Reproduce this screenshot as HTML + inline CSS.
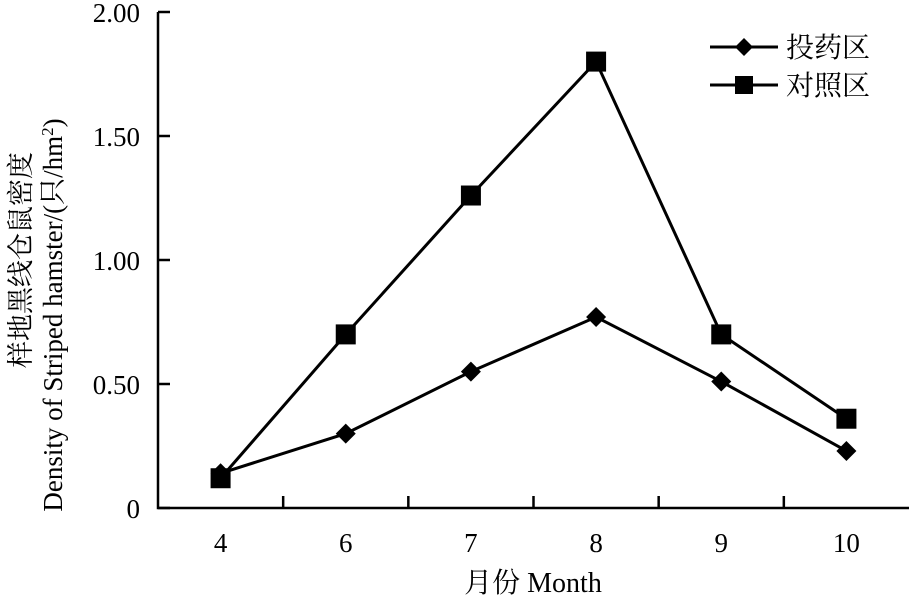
<!DOCTYPE html>
<html><head><meta charset="utf-8"><style>
body{margin:0;background:#fff;}
svg text{font-family:"Liberation Serif","Noto Serif CJK SC",serif;fill:#000;}
</style></head><body>
<svg id="c" width="909" height="599" xmlns="http://www.w3.org/2000/svg"></svg>
<script>
const categories=["4","6","7","8","9","10"];
const treated=[0.14,0.30,0.55,0.77,0.51,0.23];
const control=[0.12,0.70,1.26,1.80,0.70,0.36];
const yTicks=[0,0.5,1.0,1.5,2.0];
const yTickLabels=["0","0.50","1.00","1.50","2.00"];
const svg=document.getElementById('c');
const NS='http://www.w3.org/2000/svg';
const x0=158,x1=909,y0=508,y1=12;
const band=(x1-x0)/categories.length;
const xs=i=>x0+band*(i+0.5);
const ys=v=>y0-(v/2)*(y0-y1);
function mk(t,a){const e=document.createElementNS(NS,t);for(const k in a)e.setAttribute(k,a[k]);svg.appendChild(e);return e;}
let e;
e=mk('path',{d:`M${x0},${y1}V${y0}H${x1}`,fill:'none',stroke:'#000','stroke-width':2.5});


yTicks.forEach((v,i)=>{
 e=mk('line',{x1:x0,x2:x0+12,y1:ys(v),y2:ys(v),stroke:'#000','stroke-width':2.5});
 
 
 e=mk('text',{x:140,y:ys(v)+10,'text-anchor':'end','font-size':27});
 e.textContent=yTickLabels[i];
 
 
});
categories.forEach((c,i)=>{
 if(i>0){e=mk('line',{x1:x0+band*i,x2:x0+band*i,y1:y0,y2:y0-12,stroke:'#000','stroke-width':2.5});
 
 }
 e=mk('text',{x:xs(i),y:552,'text-anchor':'middle','font-size':27});
 e.textContent=c;
 
 
});
function series(vals,name,shape){
 e=mk('polyline',{points:vals.map((v,i)=>xs(i)+','+ys(v)).join(' '),fill:'none',stroke:'#000','stroke-width':3});
 
 
 vals.forEach((v,i)=>{
  if(shape==='d')e=mk('polygon',{points:`${xs(i)},${ys(v)-10} ${xs(i)+10},${ys(v)} ${xs(i)},${ys(v)+10} ${xs(i)-10},${ys(v)}`,fill:'#000'});
  else e=mk('rect',{x:xs(i)-10,y:ys(v)-10,width:20,height:20,fill:'#000'});
  
  
 });
}
series(treated,'treated','d');
series(control,'control','s');
e=mk('line',{x1:710,x2:778,y1:47,y2:47,stroke:'#000','stroke-width':3});


e=mk('polygon',{points:'744,38 753,47 744,56 735,47',fill:'#000'});


e=mk('text',{x:786,y:57,'font-size':28});e.textContent='投药区';


e=mk('line',{x1:710,x2:778,y1:85,y2:85,stroke:'#000','stroke-width':3});


e=mk('rect',{x:735,y:76,width:18,height:18,fill:'#000'});


e=mk('text',{x:786,y:95,'font-size':28});e.textContent='对照区';


e=mk('text',{x:533,y:592,'text-anchor':'middle','font-size':28});e.textContent='月份 Month';


e=mk('text',{transform:'translate(30,260) rotate(-90)','text-anchor':'middle','font-size':27});e.textContent='样地黑线仓鼠密度';


e=mk('text',{transform:'translate(62,315) rotate(-90)','text-anchor':'middle','font-size':27});
e.innerHTML='Density of Striped hamster/(只/hm<tspan dy="-9" font-size="17">2</tspan><tspan dy="9">)</tspan>';


</script>
</body></html>
